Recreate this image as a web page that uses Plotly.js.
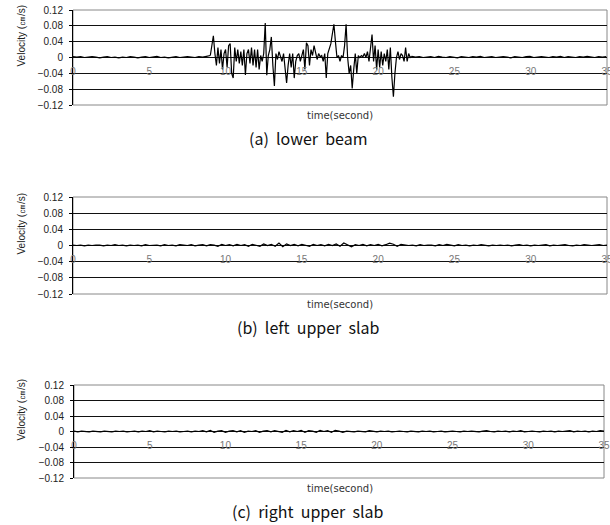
<!DOCTYPE html>
<html>
<head>
<meta charset="utf-8">
<script src="https://cdn.plot.ly/plotly-3.0.1.min.js"></script>
<style>html,body{margin:0;padding:0;background:#fff;}#chart{width:610px;height:525px;}</style>
</head>
<body>
<div id="chart"></div>
<script>
// ---------- DATA ----------
// Panel (a) lower beam : quiet start (0 s .. 9 s, every 0.25 s)
const aPreStart = 0, aPreStep = 0.25;
const aPre = [0.002,0.001,0.002,0.000,0.001,0.002,0.001,-0.001,0.001,0.002,
  0.000,0.001,-0.001,0.001,0.000,0.002,0.001,-0.001,0.001,0.002,
  0.000,0.001,0.003,0.000,0.001,-0.001,0.001,0.002,0.000,0.001,
  0.002,0.001,0.000,0.002,0.001,0.003,0.005];
// Panel (a) active part (9.0 s .. 22.2 s, every 0.1 s)
const aActStart = 9.0, aActStep = 0.1;
const aAct = [
  0.005,0.030,0.055,0.010,-0.020,0.025,-0.015,0.020,-0.030,0.010,
  0.020,-0.025,0.030,0.035,-0.040,-0.052,0.025,-0.010,0.020,-0.015,
  0.015,-0.020,0.020,-0.044,0.010,0.020,-0.015,0.025,-0.020,0.020,
  -0.025,0.020,-0.030,0.005,-0.010,0.010,0.087,-0.045,0.005,0.020,
  0.052,-0.020,-0.072,0.010,-0.005,0.015,0.005,-0.010,0.010,-0.030,
  -0.064,-0.020,0.010,-0.025,0.010,-0.052,-0.010,0.005,0.010,-0.010,
  0.005,0.020,-0.030,0.037,0.030,-0.020,0.020,0.005,0.030,0.015,
  -0.005,0.010,0.002,0.005,-0.010,0.010,-0.052,0.010,0.020,0.035,
  0.060,0.084,0.040,0.000,0.005,-0.010,0.005,0.000,0.030,0.084,
  0.000,-0.040,-0.020,-0.078,-0.030,0.010,-0.040,0.005,0.000,0.005,
  0.002,0.010,0.000,0.015,-0.010,0.020,0.058,-0.010,0.030,-0.030,
  0.020,-0.025,0.015,-0.020,0.010,-0.010,0.020,-0.030,0.025,-0.050,
  -0.099,-0.040,0.000,0.015,-0.005,0.010,0.005,-0.010,0.025,-0.010,
  0.010,0.000,0.003];
// Panel (a) quiet end (22.2 s .. 35 s, every 0.25 s)
const aPostStart = 22.2, aPostStep = 0.25;
const aPost = [0.003,0.001,0.002,0.000,0.001,0.002,0.000,0.003,0.001,0.000,
  0.002,0.001,-0.001,0.002,0.001,0.000,0.002,0.001,0.003,0.000,
  0.001,0.002,0.000,0.001,0.002,0.001,-0.001,0.002,0.001,0.000,
  0.002,0.003,0.000,0.001,0.002,0.001,0.000,0.002,0.001,0.003,
  0.000,0.002,0.001,0.000,0.002,0.001,0.003,0.001,0.000,0.002,
  0.001,0.002];

// Panel (b) left upper slab (0 s .. 35 s, every 0.25 s)
const bStart = 0, bStep = 0.25;
const bVel = [0.001,0.000,0.001,-0.001,0.001,0.000,0.001,0.001,-0.001,
  0.001,0.000,0.002,0.000,0.001,-0.001,0.001,0.000,
  0.001,-0.001,0.002,0.000,0.001,0.001,-0.001,0.002,
  0.000,0.001,-0.001,0.002,0.001,0.000,0.002,-0.001,
  0.001,0.002,-0.001,0.002,0.001,-0.002,0.003,0.000,
  0.002,-0.001,0.003,0.000,0.002,-0.002,0.003,0.001,
  -0.002,0.004,0.000,0.003,-0.002,0.006,-0.003,0.004,
  0.000,0.003,-0.001,0.003,0.001,-0.002,0.003,0.000,
  0.002,-0.001,0.003,0.000,0.004,-0.002,0.006,0.001,
  -0.003,0.002,0.000,0.003,-0.001,0.002,0.000,0.003,
  -0.001,0.002,0.006,0.003,-0.002,0.003,0.001,0.000,
  0.001,-0.001,0.002,0.000,0.001,0.001,-0.001,0.002,
  0.000,0.003,0.001,-0.001,0.002,0.000,0.001,-0.001,
  0.001,0.000,0.002,0.000,-0.001,0.001,0.000,0.001,
  0.000,0.001,-0.001,0.001,0.002,0.000,0.001,-0.001,
  0.001,0.000,0.001,0.002,-0.001,0.001,0.000,0.001,
  0.002,0.000,-0.001,0.001,0.000,0.002,0.001,0.000,
  0.001,0.002,0.000,0.001];

// Panel (c) right upper slab (0 s .. 35 s, every 0.25 s)
const cStart = 0, cStep = 0.25;
const cVel = [0.001,-0.001,0.001,0.000,-0.001,0.001,0.000,-0.001,0.001,
  0.000,-0.001,0.001,0.000,0.001,-0.001,0.000,0.001,
  -0.001,0.001,0.000,0.002,-0.001,0.001,0.000,-0.001,
  0.001,0.000,0.001,-0.001,0.000,0.001,-0.001,0.001,
  0.000,0.002,-0.001,0.003,-0.002,0.001,0.002,-0.002,
  0.001,0.002,-0.001,0.002,-0.002,0.001,0.000,0.002,
  -0.002,0.001,0.002,-0.001,0.002,0.000,-0.002,0.003,
  -0.001,0.002,0.000,0.003,-0.002,0.002,0.001,-0.002,
  0.003,0.000,0.002,-0.002,0.003,0.001,-0.002,0.001,
  0.000,-0.001,0.001,0.000,-0.001,0.002,0.000,-0.001,
  0.001,0.000,0.001,-0.001,0.000,0.001,0.000,-0.001,
  0.001,0.000,-0.001,0.001,0.000,0.001,-0.001,0.000,
  0.001,-0.001,0.000,0.001,0.000,-0.001,0.001,0.000,
  0.001,0.000,-0.001,0.001,0.002,0.000,-0.001,0.001,
  0.000,0.001,-0.001,0.001,0.000,0.002,-0.001,0.000,
  0.001,0.000,-0.001,0.001,0.000,0.001,-0.001,0.001,
  0.000,0.001,0.002,-0.001,0.001,0.000,0.001,-0.001,
  0.001,0.000,0.002,0.001];

// Axis ticks and labels
const yTickVals = [0.12,0.08,0.04,0,-0.04,-0.08,-0.12];
const yTickText = ['0.12','0.08','0.04','0','\u22120.04','\u22120.08','\u22120.12'];
const xTickVals = [0,5,10,15,20,25,30,35];
const xTickText = ['0','5','10','15','20','25','30','35'];
const panelCaptions = ['(a)\u00a0 lower\u00a0 beam','(b)\u00a0 left\u00a0 upper\u00a0 slab','(c)\u00a0 right\u00a0 upper\u00a0 slab'];
const yTitle = 'Velocity (\u339d/s)';
const xTitle = 'time(second)';

// ---------- LAYOUT ----------
const W = 610, H = 525;
const py = p => 1 - p / H;
// pixel boxes of the three plot areas [left, right, top, bottom]
const boxes = [[73,607,10,105],[73,607,197,294],[74,604,385,478]];

const lineStyle = {color:'#000', width:1.2};
const traces = [
  {x0:aPreStart, dx:aPreStep, y:aPre, xaxis:'x', yaxis:'y'},
  {x0:aActStart, dx:aActStep, y:aAct, xaxis:'x', yaxis:'y'},
  {x0:aPostStart, dx:aPostStep, y:aPost, xaxis:'x', yaxis:'y'},
  {x0:bStart, dx:bStep, y:bVel, xaxis:'x2', yaxis:'y2'},
  {x0:cStart, dx:cStep, y:cVel, xaxis:'x3', yaxis:'y3'}
].map(t => Object.assign(t, {type:'scatter', mode:'lines', line:lineStyle, hoverinfo:'skip', showlegend:false}));

const layout = {
  width: W, height: H,
  margin: {l:0, r:0, t:0, b:0},
  paper_bgcolor:'#fff', plot_bgcolor:'#fff',
  showlegend:false,
  shapes: [], annotations: []
};

boxes.forEach((b, i) => {
  const s = i === 0 ? '' : String(i+1);
  const dom = [py(b[3]), py(b[2])];
  const mid = (dom[0] + dom[1]) / 2;
  layout['xaxis'+s] = {
    domain:[b[0]/W, b[1]/W], range:[0,35], anchor:'free', position: mid,
    tickvals:xTickVals, ticktext:xTickText, ticks:'outside', ticklen:4, tickcolor:'rgba(0,0,0,0)',
    ticklabeloverflow:'allow',
    tickfont:{family:'Liberation Sans, Arial, sans-serif', size:10, color:'#777'},
    showgrid:false, zeroline:false, showline:false, fixedrange:true
  };
  layout['yaxis'+s] = {
    domain:dom, range:[-0.12,0.12], anchor:'x'+s,
    tickvals:yTickVals, ticktext:yTickText, ticks:'outside', ticklen:3, tickcolor:'#000',
    ticklabelstandoff:4,
    tickfont:{family:'Liberation Sans, Arial, sans-serif', size:10, color:'#222'},
    showgrid:true, gridcolor:'#111', gridwidth:1, zeroline:false,
    showline:true, linecolor:'#000', linewidth:1, fixedrange:true
  };
  layout.shapes.push({type:'rect', xref:'x'+s+' domain', yref:'y'+s+' domain', x0:0, x1:1, y0:0, y1:1,
    line:{color:'#888', width:1}, layer:'below'});
  // y title
  layout.annotations.push({text:yTitle, xref:'paper', yref:'paper', x:21/W, y:py((b[2]+b[3])/2 - 22),
    textangle:-90, showarrow:false, xanchor:'center', yanchor:'middle',
    font:{family:'Liberation Sans, Arial, sans-serif', size:10, color:'#222'}});
  // x title
  layout.annotations.push({text:xTitle, xref:'paper', yref:'paper', x:340/W, y:py(b[3]+10),
    showarrow:false, xanchor:'center', yanchor:'middle',
    font:{family:'DejaVu Sans, sans-serif', size:10, color:'#333'}});
  // caption
  layout.annotations.push({text:panelCaptions[i], xref:'paper', yref:'paper', x:308/W, y:py(b[3]+33),
    showarrow:false, xanchor:'center', yanchor:'middle',
    font:{family:'Noto Sans CJK KR, Noto Sans, sans-serif', size:16, color:'#111'}});
});

Plotly.newPlot('chart', traces, layout, {staticPlot:true, displayModeBar:false});
</script>
</body>
</html>
